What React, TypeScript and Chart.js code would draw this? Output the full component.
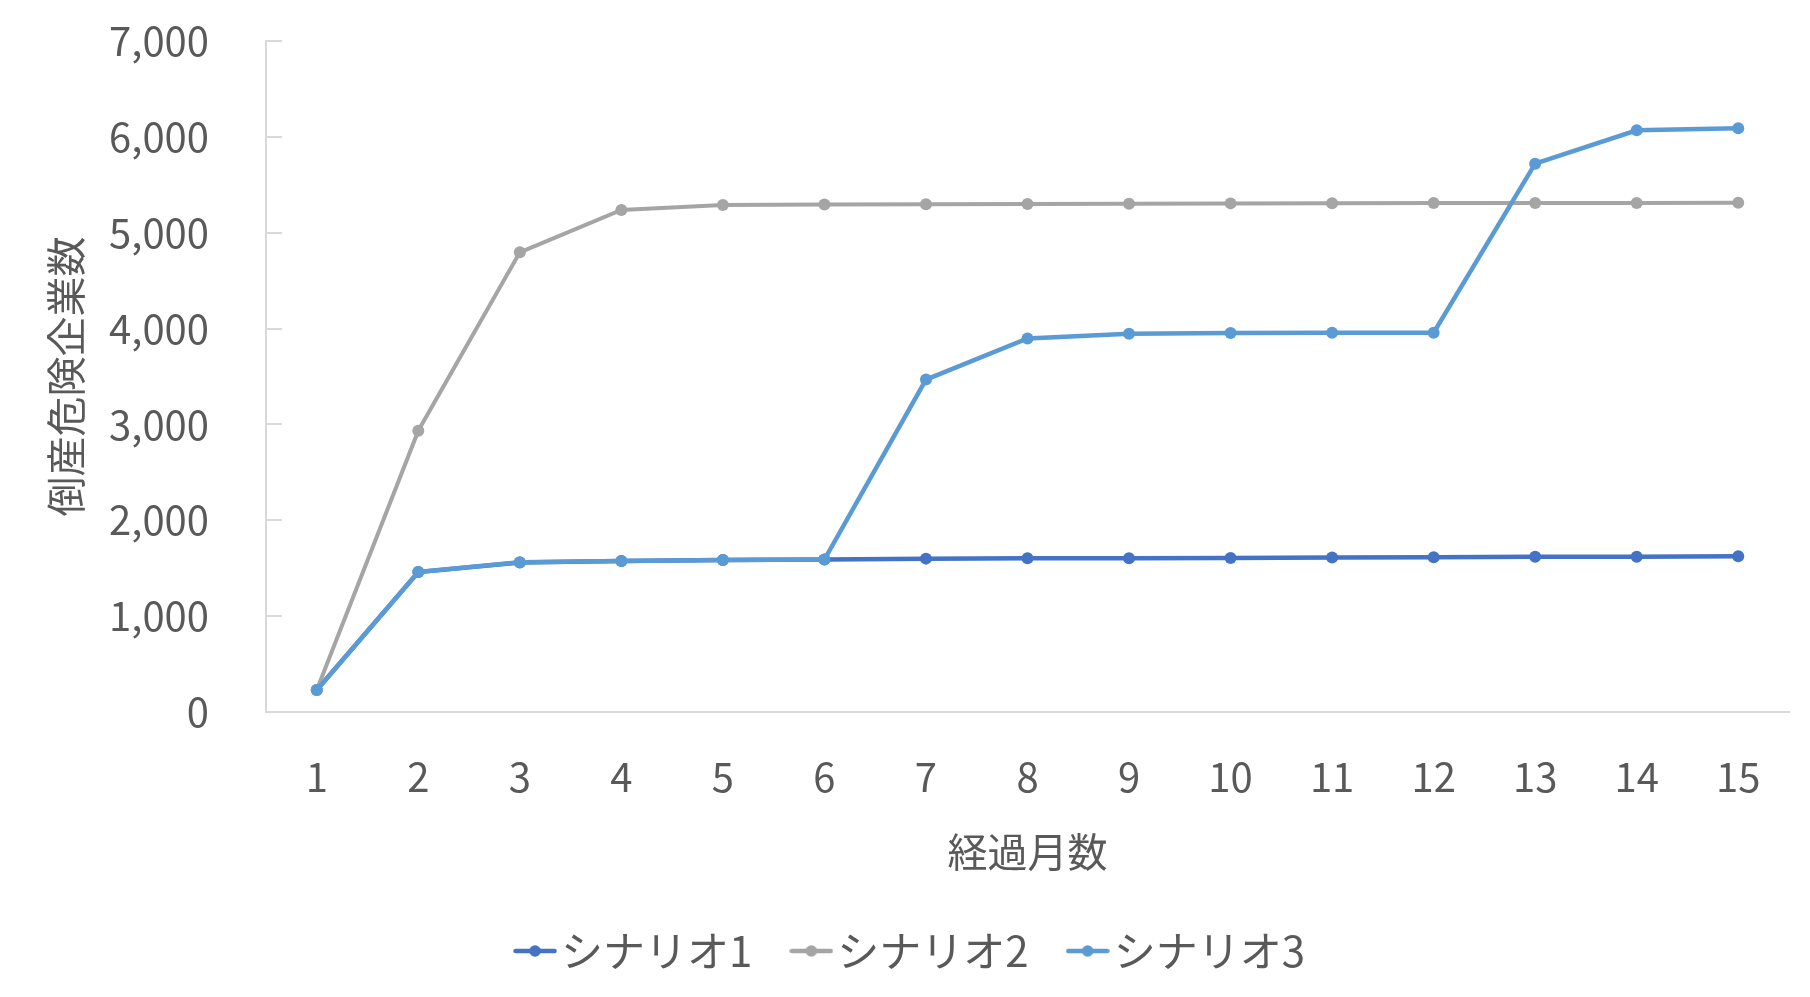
import React, { useEffect, useRef } from "react";
import { Chart, registerables } from "chart.js";

Chart.register(...registerables);

const months = ["1", "2", "3", "4", "5", "6", "7", "8", "9", "10", "11", "12", "13", "14", "15"];
const scenario1 = [230, 1460, 1560, 1575, 1585, 1590, 1600, 1604, 1605, 1606, 1612, 1615, 1619, 1620, 1626];
const scenario2 = [230, 2935, 4795, 5237, 5290, 5295, 5297, 5300, 5303, 5306, 5308, 5309, 5310, 5311, 5312];
const scenario3 = [230, 1461, 1561, 1575, 1585, 1590, 3468, 3897, 3945, 3955, 3956, 3957, 5720, 6068, 6090];
const seriesNames = ["シナリオ1", "シナリオ2", "シナリオ3"];
const seriesColors = ["#4472C4", "#A5A5A5", "#5B9BD5"];
const yTitle = "倒産危険企業数";
const xTitle = "経過月数";

const FONT = "'Noto Sans CJK JP', 'Noto Sans', sans-serif";
const TEXT = "#595959";
const AXIS = "#D9D9D9";

function legendMarker(color: string): HTMLCanvasElement {
  const c = document.createElement("canvas");
  c.width = 44;
  c.height = 14;
  const ctx = c.getContext("2d")!;
  ctx.strokeStyle = color;
  ctx.lineWidth = 4.5;
  ctx.lineCap = "round";
  ctx.beginPath();
  ctx.moveTo(2.5, 7);
  ctx.lineTo(41.5, 7);
  ctx.stroke();
  ctx.fillStyle = color;
  ctx.beginPath();
  ctx.arc(22, 7, 5.8, 0, Math.PI * 2);
  ctx.fill();
  return c;
}

const innerTicks = {
  id: "innerTicks",
  beforeDatasetsDraw(chart: any) {
    const y = chart.scales.y;
    const area = chart.chartArea;
    const ctx = chart.ctx;
    ctx.save();
    ctx.strokeStyle = AXIS;
    ctx.lineWidth = 2;
    y.ticks.forEach((t: any) => {
      const py = Math.round(y.getPixelForValue(t.value));
      ctx.beginPath();
      ctx.moveTo(area.left, py);
      ctx.lineTo(area.left + 16, py);
      ctx.stroke();
    });
    ctx.restore();
  },
};

export default function App() {
  const ref = useRef<HTMLCanvasElement>(null);

  useEffect(() => {
    document.body.style.margin = "0";
    const data = [scenario1, scenario2, scenario3];
    const chart = new Chart(ref.current!, {
      type: "line",
      data: {
        labels: months,
        datasets: data.map((d, i) => ({
          label: seriesNames[i],
          data: d,
          borderColor: seriesColors[i],
          backgroundColor: seriesColors[i],
          pointBackgroundColor: seriesColors[i],
          pointBorderColor: seriesColors[i],
          borderWidth: i === 1 ? 4 : 4.5,
          pointRadius: 6,
          pointBorderWidth: 0,
          tension: 0,
          order: 3 - i,
        })),
      },
      options: {
        responsive: false,
        animation: false,
        locale: "en-US",
        layout: { padding: { top: 41, right: 21, bottom: 15, left: 46 } },
        plugins: {
          tooltip: { enabled: false },
          legend: {
            position: "bottom",
            labels: {
              usePointStyle: true,
              pointStyleWidth: 10,
              padding: 54,
              color: TEXT,
              font: { family: FONT, size: 42 },
              generateLabels: (ch: any) =>
                ch.data.datasets.map((ds: any, i: number) => ({
                  text: ds.label,
                  fillStyle: seriesColors[i],
                  strokeStyle: seriesColors[i],
                  lineWidth: 0,
                  pointStyle: legendMarker(seriesColors[i]),
                  fontColor: TEXT,
                  hidden: false,
                  datasetIndex: i,
                })),
            },
          },
        },
        scales: {
          x: {
            offset: true,
            grid: { display: false, drawTicks: false },
            border: { display: true, color: AXIS, width: 2 },
            ticks: { color: TEXT, padding: 41, font: { family: FONT, size: 40 } },
            title: {
              display: true,
              text: xTitle,
              color: TEXT,
              font: { family: FONT, size: 40 },
              padding: { top: 0, bottom: 0 },
            },
            afterFit: (s: any) => {
              s.height = 164;
              s.paddingLeft = 0;
              s.paddingRight = 0;
            },
          },
          y: {
            min: 0,
            max: 7000,
            ticks: { stepSize: 1000, color: TEXT, padding: 57, font: { family: FONT, size: 40 } },
            grid: { display: false, drawTicks: false },
            border: { display: true, color: AXIS, width: 2 },
            title: {
              display: true,
              text: yTitle,
              color: TEXT,
              font: { family: FONT, size: 40 },
              padding: { top: -4, bottom: 0 },
            },
            afterFit: (s: any) => {
              s.width = 220;
              s.paddingTop = 0;
              s.paddingBottom = 0;
            },
          },
        },
      },
      plugins: [innerTicks],
    });
    return () => chart.destroy();
  }, []);

  return (
    <div style={{ position: "absolute", left: 0, top: 0, width: 1810, height: 997, background: "#fff" }}>
      <canvas ref={ref} width={1810} height={997} />
    </div>
  );
}
